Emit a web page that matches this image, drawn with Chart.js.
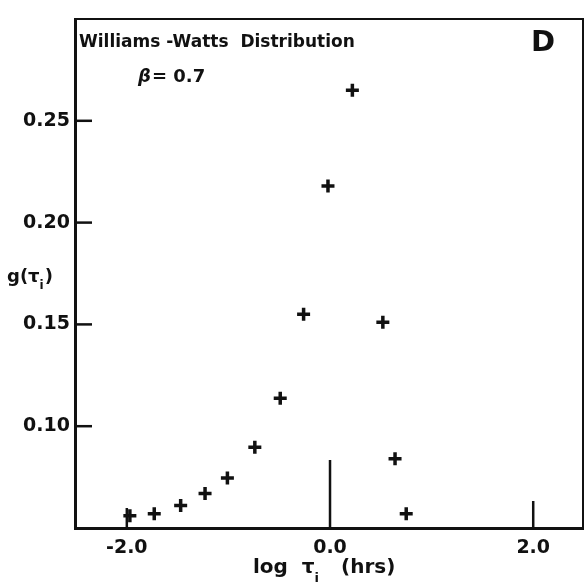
<!DOCTYPE html>
<html>
<head>
<meta charset="utf-8">
<title>Williams-Watts Distribution</title>
<script src="https://cdn.jsdelivr.net/npm/chart.js@4.4.0/dist/chart.umd.min.js"></script>
<style>
  html, body { margin: 0; padding: 0; background: #fff; }
  #wrap { width: 588px; height: 588px; }
</style>
</head>
<body>
<div id="wrap"><canvas id="wwChart" width="588" height="588"></canvas></div>
<script>
// ============================================
// DATA - values
// ============================================
const logTau = [-1.97, -1.73, -1.47, -1.23, -1.01, -0.74, -0.49, -0.26, -0.02, 0.22, 0.52, 0.64, 0.75];
const gTau   = [0.056, 0.057, 0.061, 0.067, 0.0745, 0.0896, 0.1137, 0.155, 0.218, 0.265, 0.151, 0.084, 0.057];

const xTicks = [-2, 0, 2];
const xTickLabels = ['-2.0', '0.0', '2.0'];
const yTicks = [0.10, 0.15, 0.20, 0.25];
const yTickLabels = ['0.10', '0.15', '0.20', '0.25'];

// inward tick lengths (px), the one at 0.0 is drawn long like in the figure
const xTickLen = [20, 68, 27];
const yTickLen = 17;

const INK = '#111';
const FONT = '"DejaVu Sans", "Liberation Sans", sans-serif';

// ============================================
// FRAME PLUGIN - box, inward ticks and the labels
// ============================================
const framePlugin = {
    id: 'frame',
    afterDraw(chart) {
        const { ctx, chartArea: a, scales: { x, y } } = chart;
        ctx.save();
        ctx.strokeStyle = INK;
        ctx.fillStyle = INK;

        // top and right sides of the box (thinner than the axes)
        ctx.lineWidth = 2;
        ctx.beginPath();
        ctx.moveTo(a.left, a.top);
        ctx.lineTo(a.right, a.top);
        ctx.lineTo(a.right, a.bottom);
        ctx.stroke();

        // ticks pointing into the plot
        ctx.lineWidth = 2.5;
        xTicks.forEach((v, i) => {
            const px = x.getPixelForValue(v);
            ctx.beginPath();
            ctx.moveTo(px, a.bottom);
            ctx.lineTo(px, a.bottom - xTickLen[i]);
            ctx.stroke();
        });
        yTicks.forEach(v => {
            const py = y.getPixelForValue(v);
            ctx.beginPath();
            ctx.moveTo(a.left, py);
            ctx.lineTo(a.left + yTickLen, py);
            ctx.stroke();
        });

        // title block inside the box
        ctx.textBaseline = 'alphabetic';
        ctx.textAlign = 'left';
        ctx.font = 'bold 17px ' + FONT;
        ctx.fillText('Williams -Watts  Distribution', a.left + 4, 47);
        ctx.font = 'italic bold 18px ' + FONT;
        ctx.fillText('β', 138, 82);
        ctx.font = 'bold 18px ' + FONT;
        ctx.fillText('= 0.7', 152, 82);
        ctx.font = 'bold 29px ' + FONT;
        ctx.fillText('D', 531, 51);

        // y axis title, horizontal like the original
        ctx.font = 'bold 18px ' + FONT;
        let tx = 7;
        ctx.fillText('g(τ', tx, 282);
        tx += ctx.measureText('g(τ').width;
        ctx.font = 'bold 12px ' + FONT;
        ctx.fillText('i', tx, 289);
        tx += ctx.measureText('i').width + 1;
        ctx.font = 'bold 18px ' + FONT;
        ctx.fillText(')', tx, 282);

        // x axis title
        ctx.font = 'bold 20px ' + FONT;
        tx = 253;
        ctx.fillText('log  τ', tx, 573);
        tx += ctx.measureText('log  τ').width;
        ctx.font = 'bold 13px ' + FONT;
        ctx.fillText('i', tx, 582);
        tx += ctx.measureText('i').width + 22;
        ctx.font = 'bold 20px ' + FONT;
        ctx.fillText('(hrs)', tx, 573);

        ctx.restore();
    }
};

// ============================================
// CHART - scatter of the distribution points
// ============================================
const points = logTau.map((v, i) => ({ x: v, y: gTau[i] }));

new Chart(document.getElementById('wwChart'), {
    type: 'scatter',
    data: {
        datasets: [{
            data: points,
            pointStyle: 'cross',
            pointRadius: 6.5,
            pointBorderWidth: 3.5,
            borderColor: INK,
            backgroundColor: INK
        }]
    },
    options: {
        responsive: false,
        animation: false,
        layout: { autoPadding: false, padding: { top: 19, right: 5, left: 0, bottom: 0 } },
        plugins: {
            legend: { display: false },
            tooltip: { enabled: false }
        },
        scales: {
            x: {
                type: 'linear',
                min: -2.51,
                max: 2.49,
                afterBuildTicks: s => { s.ticks = xTicks.map(v => ({ value: v })); },
                afterFit: s => { s.height = 60; },
                grid: { display: false, drawTicks: false },
                border: { display: true, color: INK, width: 3 },
                ticks: {
                    callback: (v, i) => xTickLabels[i],
                    color: INK,
                    font: { family: FONT, size: 19, weight: 'bold' },
                    padding: 9,
                    maxRotation: 0,
                    autoSkip: false
                }
            },
            y: {
                type: 'linear',
                min: 0.05,
                max: 0.30,
                afterBuildTicks: s => { s.ticks = yTicks.map(v => ({ value: v })); },
                afterFit: s => { s.width = 75; },
                grid: { display: false, drawTicks: false },
                border: { display: true, color: INK, width: 3 },
                ticks: {
                    callback: (v, i) => yTickLabels[i],
                    color: INK,
                    font: { family: FONT, size: 19, weight: 'bold' },
                    padding: 5,
                    autoSkip: false
                }
            }
        }
    },
    plugins: [framePlugin]
});
</script>
</body>
</html>
